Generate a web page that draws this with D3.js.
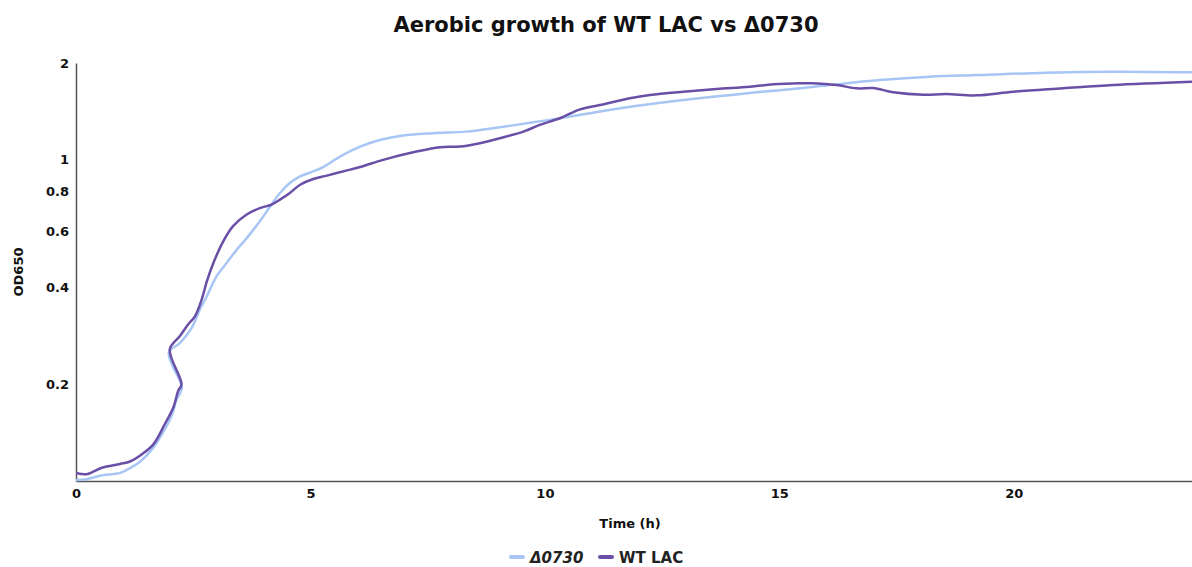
<!DOCTYPE html>
<html>
<head>
<meta charset="utf-8">
<script src="https://cdn.jsdelivr.net/npm/d3@7"></script>
<style>
  html, body { margin: 0; padding: 0; background: #fff; }
  svg { display: block; font-family: "DejaVu Sans", Verdana, sans-serif; }
</style>
</head>
<body>
<svg id="chart" width="1192" height="567"></svg>
<script>
// Growth curves (time in hours, OD650). Sampling order is kept as recorded,
// including the re-read near 2 h.
const wtTime = [0, 0.23, 0.55, 0.94, 1.15, 1.40, 1.65, 1.90, 2.08, 2.18, 2.25,
  2.00, 2.22, 2.39, 2.54, 2.68, 2.79, 2.93, 3.14, 3.35, 3.64, 3.92, 4.17, 4.35,
  4.56, 4.78, 5.06, 5.35, 5.70, 6.06, 6.55, 7.26, 7.76, 8.19, 8.61, 9.04, 9.54,
  9.89, 10.32, 10.75, 11.17, 11.81, 12.24, 12.95, 13.66, 14.37, 14.87, 15.44,
  15.72, 16.22, 16.65, 17.0, 17.43, 18.07, 18.56, 19.20, 19.99, 21.05, 22.12, 23.8];
const wtOD = [0.106, 0.105, 0.110, 0.113, 0.115, 0.121, 0.130, 0.151, 0.170, 0.191, 0.200,
  0.257, 0.283, 0.307, 0.326, 0.367, 0.418, 0.477, 0.557, 0.621, 0.675, 0.707, 0.725, 0.751,
  0.788, 0.836, 0.871, 0.892, 0.920, 0.949, 0.999, 1.060, 1.094, 1.099, 1.126, 1.167, 1.223,
  1.283, 1.346, 1.435, 1.480, 1.553, 1.590, 1.628, 1.660, 1.688, 1.717, 1.730,
  1.730, 1.708, 1.668, 1.672, 1.621, 1.593, 1.601, 1.586, 1.628, 1.668, 1.708, 1.748];

const mutTime = [0, 0.23, 0.51, 0.94, 1.12, 1.37, 1.61, 1.86, 2.04, 2.15, 2.22, 2.26,
  1.98, 2.22, 2.47, 2.64, 2.79, 3.00, 3.21, 3.43, 3.64, 3.92, 4.14, 4.35, 4.56,
  4.78, 5.06, 5.27, 5.63, 6.06, 6.48, 6.91, 7.62, 8.33, 9.04, 9.75, 10.32, 10.96,
  11.67, 12.38, 13.09, 13.80, 14.51, 15.44, 16.08, 17.14, 18.21, 19.27, 20.70, 22.12, 23.8];
const mutOD = [0.1008, 0.1013, 0.1038, 0.106, 0.109, 0.115, 0.125, 0.142, 0.160, 0.180, 0.188, 0.196,
  0.251, 0.269, 0.300, 0.342, 0.376, 0.434, 0.477, 0.525, 0.570, 0.643, 0.715, 0.788, 0.846,
  0.887, 0.920, 0.949, 1.023, 1.099, 1.152, 1.186, 1.209, 1.223, 1.262, 1.307, 1.346, 1.395,
  1.451, 1.498, 1.542, 1.581, 1.621, 1.668, 1.708, 1.770, 1.813, 1.835, 1.866, 1.879, 1.871];

const seriesNames = ["\u03940730", "WT LAC"];
const seriesColors = ["#a7c6f5", "#6a4fa6"];
const xTicks = [0, 5, 10, 15, 20];
const yTicks = [0.2, 0.4, 0.6, 0.8, 1, 2];

const svg = d3.select("#chart");
const margin = { top: 63, right: 0, bottom: 86, left: 76 };
const W = 1192, H = 567;

const x = d3.scaleLinear().domain([0, 23.8]).range([margin.left, W - margin.right]);
const y = d3.scaleLog().domain([0.1, 2]).range([H - margin.bottom, margin.top]);

// Title
svg.append("text")
  .attr("x", 606).attr("y", 32)
  .attr("text-anchor", "middle")
  .attr("font-size", 21).attr("font-weight", "bold").attr("fill", "#111")
  .text("Aerobic growth of WT LAC vs \u03940730");

// Axes
const xAxis = svg.append("g")
  .attr("transform", `translate(0,${H - margin.bottom})`)
  .call(d3.axisBottom(x).tickValues(xTicks).tickSize(0).tickPadding(8).tickFormat(d3.format("d")));
const yAxis = svg.append("g")
  .attr("transform", `translate(${margin.left},0)`)
  .call(d3.axisLeft(y).tickValues(yTicks).tickSize(0).tickPadding(7).tickFormat(d => String(d)));

[xAxis, yAxis].forEach(g => {
  g.select(".domain").attr("stroke", "#555").attr("stroke-width", 1.5);
  g.selectAll("text")
    .attr("font-family", "DejaVu Sans, Verdana, sans-serif")
    .attr("font-size", 13).attr("font-weight", "bold").attr("fill", "#111");
});

// Axis titles
svg.append("text")
  .attr("x", 630).attr("y", 528)
  .attr("text-anchor", "middle")
  .attr("font-size", 13).attr("font-weight", "bold").attr("fill", "#111")
  .text("Time (h)");
svg.append("text")
  .attr("transform", "translate(23,272) rotate(-90)")
  .attr("text-anchor", "middle")
  .attr("font-size", 13).attr("font-weight", "bold").attr("fill", "#111")
  .text("OD650");

// Lines
const line = d3.line()
  .x(d => x(d.t))
  .y(d => y(d.v))
  .curve(d3.curveCatmullRom.alpha(0.5));

const series = [
  { name: seriesNames[0], color: seriesColors[0], pts: mutTime.map((t, i) => ({ t, v: mutOD[i] })) },
  { name: seriesNames[1], color: seriesColors[1], pts: wtTime.map((t, i) => ({ t, v: wtOD[i] })) }
];

svg.append("defs").append("clipPath").attr("id", "plot")
  .append("rect").attr("x", margin.left).attr("y", 0)
  .attr("width", W - margin.left).attr("height", H - margin.bottom + 1);

svg.append("g").attr("clip-path", "url(#plot)")
  .selectAll("path").data(series).join("path")
  .attr("d", d => line(d.pts))
  .attr("fill", "none")
  .attr("stroke", d => d.color)
  .attr("stroke-width", 2.5)
  .attr("stroke-linejoin", "round")
  .attr("stroke-linecap", "round");

// Legend
const legend = svg.append("g").attr("transform", "translate(511,557)");
const items = [
  { dx: 0, text: seriesNames[0], color: seriesColors[0], italic: true },
  { dx: 89, text: seriesNames[1], color: seriesColors[1], italic: false }
];
items.forEach(it => {
  const g = legend.append("g").attr("transform", `translate(${it.dx},0)`);
  g.append("line").attr("x1", 0).attr("x2", 12).attr("y1", 0).attr("y2", 0)
    .attr("stroke", it.color).attr("stroke-width", 4).attr("stroke-linecap", "round");
  g.append("text").attr("x", 19).attr("y", 5.5)
    .attr("font-size", 15).attr("font-weight", "bold")
    .attr("font-style", it.italic ? "italic" : "normal")
    .attr("fill", "#222").text(it.text);
});
</script>
</body>
</html>
